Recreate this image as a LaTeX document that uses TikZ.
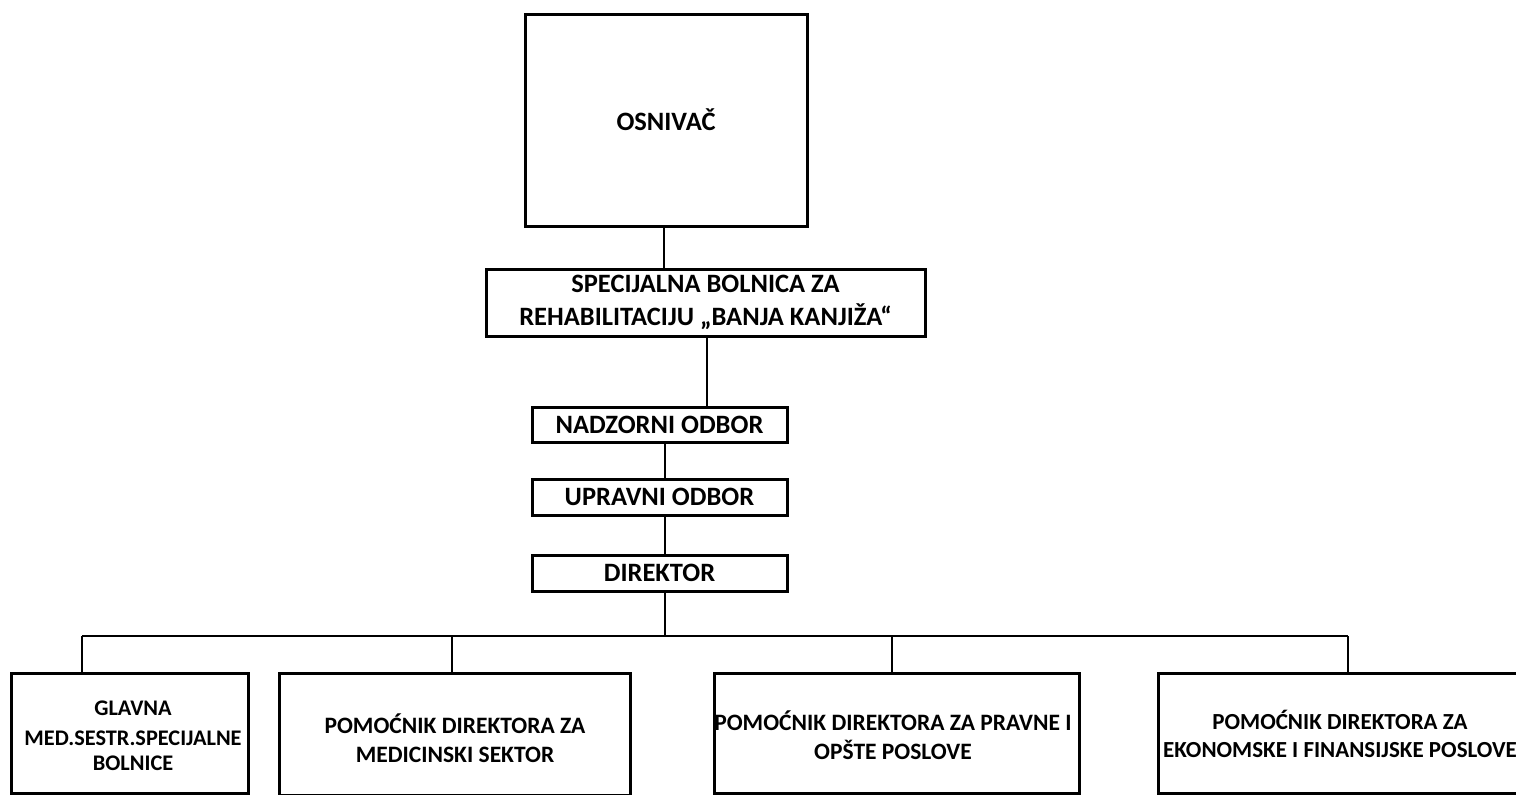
\documentclass[tikz,border=0pt]{standalone}
\usepackage{fontspec}
\setmainfont{Carlito}
\begin{document}
\begin{tikzpicture}[x=1pt,y=-1pt,
  box/.style={draw=black,line width=3pt,rectangle,inner sep=0pt,align=center,font=\bfseries\fontsize{26.5}{32.5}\selectfont},
  lowbox/.style={box,font=\bfseries\fontsize{23.5}{29}\selectfont},
  lowtext/.style={inner sep=0pt,align=center,font=\bfseries\fontsize{23.5}{29}\selectfont},
  conn/.style={draw=black,line width=1.5pt}]
\useasboundingbox (0,0) rectangle (1516,795);
\clip (0,0) rectangle (1516,795);
\node[box,minimum width=282pt,minimum height=212pt] (osn) at (666,120) {OSNIVAČ};
\node[box,minimum width=439pt,minimum height=67pt] (spec) at (705.5,302.5) {SPECIJALNA BOLNICA ZA\\REHABILITACIJU „BANJA KANJIŽA“};
\node[box,minimum width=255pt,minimum height=35pt] (nad) at (659.5,424.5) {NADZORNI ODBOR};
\node[box,minimum width=255pt,minimum height=36pt] (upr) at (659.5,497) {UPRAVNI ODBOR};
\node[box,minimum width=255pt,minimum height=36pt] (dir) at (659.5,573) {DIREKTOR};
\node[box,minimum width=237pt,minimum height=120pt] (b1) at (129.5,733) {};
\node[lowtext,font=\bfseries\fontsize{22.3}{28.5}\selectfont] (b1t) at (133,736) {GLAVNA\\[1pt]MED.SESTR.SPECIJALNE\\[-3pt]BOLNICE};
\node[box,minimum width=351pt,minimum height=122pt] (b2) at (454.5,734) {};
\node[lowtext] (b2t) at (455,738) {POMOĆNIK DIREKTORA ZA\\MEDICINSKI SEKTOR};
\node[box,minimum width=365pt,minimum height=120pt] (b3) at (896.5,733) {};
\node[lowtext] (b3t) at (893,735) {POMOĆNIK DIREKTORA ZA PRAVNE I\\OPŠTE POSLOVE};
\node[box,minimum width=364pt,minimum height=120pt] (b4) at (1340,733) {};
\node[lowtext,font=\bfseries\fontsize{23}{27.5}\selectfont] (b4t) at (1340,734) {POMOĆNIK DIREKTORA ZA\\EKONOMSKE I FINANSIJSKE POSLOVE};
\coordinate (c1) at (664,0);
\coordinate (c2) at (707,0);
\coordinate (c3) at (665,0);
\coordinate (bus) at (665,636);
\coordinate (j1) at (82,636);
\coordinate (j2) at (452,636);
\coordinate (j3) at (892,636);
\coordinate (j4) at (1348,636);
\draw[conn] (c1 |- osn.south) -- (c1 |- spec.north);
\draw[conn] (c2 |- spec.south) -- (c2 |- nad.north);
\draw[conn] (c3 |- nad.south) -- (c3 |- upr.north);
\draw[conn] (c3 |- upr.south) -- (c3 |- dir.north);
\draw[conn] (c3 |- dir.south) -- (bus);
\draw[conn] (j1) -- (j4);
\draw[conn] (j1) -- (j1 |- b1.north);
\draw[conn] (j2) -- (j2 |- b2.north);
\draw[conn] (j3) -- (j3 |- b3.north);
\draw[conn] (j4) -- (j4 |- b4.north);
\end{tikzpicture}
\end{document}
